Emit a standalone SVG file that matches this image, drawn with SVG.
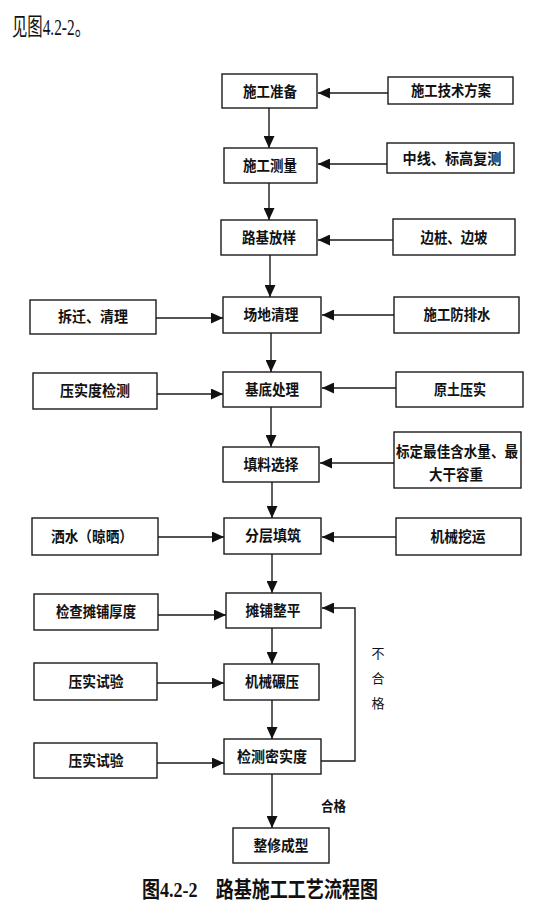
<svg xmlns="http://www.w3.org/2000/svg" width="553" height="918" viewBox="0 0 553 918">
<defs>
<marker id="ah" markerUnits="userSpaceOnUse" markerWidth="12" markerHeight="11" refX="12" refY="5.5" orient="auto">
<path d="M0,0 L12,5.5 L0,11 z" fill="#111"/>
</marker>
<style>
rect{fill:#fff;stroke:#1a1a1a;stroke-width:1.4}
.t{font-family:"Noto Sans CJK SC","Noto Sans CJK JP",sans-serif;font-size:15px;font-weight:bold;fill:#111;text-anchor:middle}
.n{font-family:"Noto Sans CJK SC",sans-serif;font-size:13px;fill:#111;text-anchor:middle}
#connectors line,#connectors polyline{stroke:#1a1a1a;stroke-width:1.4;fill:none}
#connectors .a{marker-end:url(#ah)}
</style>
</defs>
<rect x="0" y="0" width="553" height="918" style="fill:#fff;stroke:none"/>
<text x="12" y="35" textLength="78" lengthAdjust="spacingAndGlyphs" style="font-family:'Liberation Serif','Noto Sans CJK SC',serif;font-size:24px;fill:#111">见图4.2-2。</text>

<g id="connectors">
<line class="a" x1="269" y1="108" x2="269" y2="148"/>
<line class="a" x1="269" y1="183" x2="269" y2="220"/>
<line class="a" x1="270" y1="255" x2="270" y2="297"/>
<line class="a" x1="271" y1="333" x2="271" y2="372"/>
<line class="a" x1="271" y1="407" x2="271" y2="447"/>
<line class="a" x1="272" y1="482" x2="272" y2="518"/>
<line class="a" x1="272" y1="554" x2="272" y2="593"/>
<line class="a" x1="272" y1="628" x2="272" y2="664"/>
<line class="a" x1="272" y1="700" x2="272" y2="739"/>
<line class="a" x1="272" y1="774" x2="272" y2="828"/>
<line class="a" x1="388" y1="93" x2="318" y2="93"/>
<line class="a" x1="387" y1="164" x2="318" y2="164"/>
<line class="a" x1="393" y1="240" x2="318" y2="240"/>
<line class="a" x1="394" y1="315" x2="322" y2="315"/>
<line class="a" x1="396" y1="388" x2="322" y2="388"/>
<line class="a" x1="394" y1="463" x2="320" y2="463"/>
<line class="a" x1="396" y1="537" x2="322" y2="537"/>
<line class="a" x1="156" y1="318" x2="223" y2="318"/>
<line class="a" x1="157" y1="394" x2="223" y2="394"/>
<line class="a" x1="158" y1="537" x2="224" y2="537"/>
<line class="a" x1="158" y1="615" x2="226" y2="615"/>
<line class="a" x1="157" y1="683" x2="224" y2="683"/>
<line class="a" x1="157" y1="763" x2="224" y2="763"/>
<polyline class="a" points="321,761 355,761 355,608 322,608"/>
</g>

<g id="n1"><rect x="222" y="74" width="95" height="34"/><text class="t" x="270" y="97" textLength="54" lengthAdjust="spacingAndGlyphs">施工准备</text></g>
<g id="r1"><rect x="388" y="77" width="125" height="27"/><text class="t" x="451" y="96" textLength="80" lengthAdjust="spacingAndGlyphs">施工技术方案</text></g>
<g id="n2"><rect x="224" y="148" width="93" height="35"/><text class="t" x="270" y="171" textLength="54" lengthAdjust="spacingAndGlyphs">施工测量</text></g>
<g id="r2"><rect x="387" y="143" width="127" height="30"/><text class="t" x="452" y="164" textLength="99" lengthAdjust="spacingAndGlyphs">中线、标高复测</text></g>
<g id="n3"><rect x="221" y="220" width="96" height="35"/><text class="t" x="269" y="243" textLength="54" lengthAdjust="spacingAndGlyphs">路基放样</text></g>
<g id="r3"><rect x="393" y="219" width="122" height="36"/><text class="t" x="454" y="243" textLength="67" lengthAdjust="spacingAndGlyphs">边桩、边坡</text></g>

<g id="l4"><rect x="30" y="300" width="126" height="34"/><text class="t" x="93" y="322" textLength="70" lengthAdjust="spacingAndGlyphs">拆迁、清理</text></g>
<g id="n4"><rect x="223" y="297" width="98" height="36"/><text class="t" x="271" y="320" textLength="55" lengthAdjust="spacingAndGlyphs">场地清理</text></g>
<g id="r4"><rect x="394" y="297" width="125" height="36"/><text class="t" x="457" y="320" textLength="67" lengthAdjust="spacingAndGlyphs">施工防排水</text></g>

<g id="l5"><rect x="33" y="373" width="124" height="36"/><text class="t" x="95" y="396" textLength="70" lengthAdjust="spacingAndGlyphs">压实度检测</text></g>
<g id="n5"><rect x="223" y="372" width="98" height="35"/><text class="t" x="272" y="395" textLength="54" lengthAdjust="spacingAndGlyphs">基底处理</text></g>
<g id="r5"><rect x="396" y="372" width="127" height="35"/><text class="t" x="460" y="395" textLength="52" lengthAdjust="spacingAndGlyphs">原土压实</text></g>

<g id="n6"><rect x="223" y="447" width="96" height="35"/><text class="t" x="271" y="470" textLength="55" lengthAdjust="spacingAndGlyphs">填料选择</text></g>
<g id="r6"><rect x="394" y="432" width="127" height="56"/><text class="t" x="457" y="457" textLength="122" lengthAdjust="spacingAndGlyphs">标定最佳含水量、最</text><text class="t" x="456" y="480" textLength="54" lengthAdjust="spacingAndGlyphs">大干容重</text></g>

<g id="l7"><rect x="32" y="518" width="126" height="37"/><text class="t" x="92" y="542" textLength="82" lengthAdjust="spacingAndGlyphs">洒水（晾晒）</text></g>
<g id="n7"><rect x="224" y="518" width="97" height="36"/><text class="t" x="273" y="541" textLength="56" lengthAdjust="spacingAndGlyphs">分层填筑</text></g>
<g id="r7"><rect x="396" y="518" width="125" height="37"/><text class="t" x="458" y="542" textLength="55" lengthAdjust="spacingAndGlyphs">机械挖运</text></g>

<g id="l8"><rect x="34" y="594" width="124" height="36"/><text class="t" x="96" y="617" textLength="80" lengthAdjust="spacingAndGlyphs">检查摊铺厚度</text></g>
<g id="n8"><rect x="226" y="593" width="95" height="35"/><text class="t" x="273" y="616" textLength="55" lengthAdjust="spacingAndGlyphs">摊铺整平</text></g>

<g id="l9"><rect x="34" y="663" width="123" height="37"/><text class="t" x="96" y="687" textLength="55" lengthAdjust="spacingAndGlyphs">压实试验</text></g>
<g id="n9"><rect x="224" y="664" width="95" height="36"/><text class="t" x="272" y="687" textLength="54" lengthAdjust="spacingAndGlyphs">机械碾压</text></g>

<g id="l10"><rect x="34" y="743" width="123" height="35"/><text class="t" x="96" y="766" textLength="55" lengthAdjust="spacingAndGlyphs">压实试验</text></g>
<g id="n10"><rect x="224" y="739" width="97" height="35"/><text class="t" x="272" y="762" textLength="70" lengthAdjust="spacingAndGlyphs">检测密实度</text></g>

<g id="n11"><rect x="233" y="828" width="96" height="35"/><text class="t" x="281" y="851" textLength="55" lengthAdjust="spacingAndGlyphs">整修成型</text></g>

<g id="labels">
<text class="n" x="378" y="658">不</text>
<text class="n" x="378" y="683">合</text>
<text class="n" x="378" y="708">格</text>
<text class="n" x="333.5" y="811" style="font-size:14px;font-weight:bold" textLength="25" lengthAdjust="spacingAndGlyphs">合格</text>
</g>

<text x="142" y="897" textLength="236" lengthAdjust="spacingAndGlyphs" style="font-family:'Liberation Serif','Noto Sans CJK SC',serif;font-size:22px;font-weight:bold;fill:#111">图4.2-2　路基施工工艺流程图</text>
</svg>
